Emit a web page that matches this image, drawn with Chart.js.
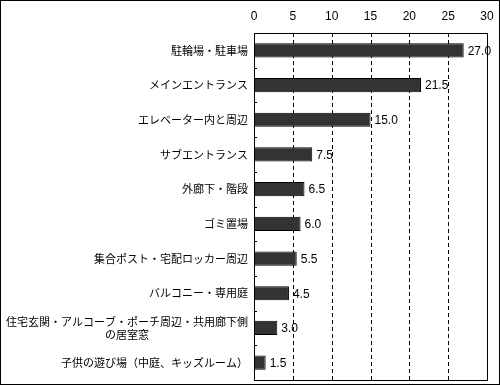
<!DOCTYPE html>
<html><head><meta charset="utf-8">
<script src="https://cdn.jsdelivr.net/npm/chart.js@4/dist/chart.umd.min.js"></script>
<style>html,body{margin:0;padding:0;background:#fff}#wrap{width:500px;height:385px;position:relative}</style>
</head><body><div id="wrap"><canvas id="c" width="500" height="385"></canvas></div>
<script>
const categories = [
  '駐輪場・駐車場',
  'メインエントランス',
  'エレベーター内と周辺',
  'サブエントランス',
  '外廊下・階段',
  'ゴミ置場',
  '集合ポスト・宅配ロッカー周辺',
  'バルコニー・専用庭',
  ['住宅玄関・アルコーブ・ポーチ周辺・共用廊下側', 'の居室窓'],
  '子供の遊び場（中庭、キッズルーム）'
];
const values = [27.0, 21.5, 15.0, 7.5, 6.5, 6.0, 5.5, 4.5, 3.0, 1.5];
const tickValues = [0, 5, 10, 15, 20, 25, 30];

const FONT = '"Noto Sans CJK JP", "Noto Sans", sans-serif';
const NUMFONT = '"Liberation Sans Narrow", "Liberation Sans", Arial, sans-serif';

const deco = {
  id: 'deco',
  beforeDatasetsDraw(chart) {
    const {ctx, chartArea: a, scales: {x, y}} = chart;
    ctx.save();
    ctx.strokeStyle = '#000';
    ctx.lineWidth = 1;
    ctx.setLineDash([4, 3]);
    tickValues.forEach(v => {
      if (v === tickValues[0] || v === tickValues[tickValues.length - 1]) return;
      const px = Math.round(x.getPixelForValue(v)) + 0.5;
      ctx.beginPath(); ctx.moveTo(px, a.top); ctx.lineTo(px, a.bottom); ctx.stroke();
    });
    ctx.setLineDash([]);
    for (let i = 1; i < categories.length; i++) {
      const py = Math.round((y.getPixelForValue(i - 1) + y.getPixelForValue(i)) / 2) + 0.5;
      ctx.beginPath(); ctx.moveTo(a.left, py); ctx.lineTo(a.left + 3, py); ctx.stroke();
    }
    ctx.restore();
  },
  afterDraw(chart) {
    const {ctx, chartArea: a, scales: {x, y}} = chart;
    ctx.save();
    ctx.strokeStyle = '#000';
    ctx.lineWidth = 1;
    ctx.strokeRect(Math.round(a.left) + 0.5, Math.round(a.top) + 0.5,
                   Math.round(a.right - a.left), Math.round(a.bottom - a.top));
    ctx.strokeRect(0.5, 0.5, 499, 384);
    ctx.fillStyle = '#000';
    // x tick labels (top)
    ctx.font = '12px ' + NUMFONT;
    ctx.textAlign = 'center';
    ctx.textBaseline = 'middle';
    tickValues.forEach(v => {
      ctx.fillText(String(v), x.getPixelForValue(v), a.top - 16);
    });
    // category labels
    ctx.font = '11px ' + FONT;
    categories.forEach((lab, i) => {
      const cy = y.getPixelForValue(i);
      const lines = Array.isArray(lab) ? lab : [lab];
      const lh = 13;
      if (lines.length === 1) {
        ctx.textAlign = 'right';
        ctx.fillText(lines[0], a.left - 6, cy);
      } else {
        const widths = lines.map(l => ctx.measureText(l).width);
        const w = Math.max(...widths);
        const cx = a.left - 6 - w / 2;
        ctx.textAlign = 'center';
        lines.forEach((l, j) => {
          ctx.fillText(l, cx, cy + (j - (lines.length - 1) / 2) * lh);
        });
      }
    });
    // value labels
    ctx.textAlign = 'left';
    ctx.font = '12px ' + NUMFONT;
    const meta = chart.getDatasetMeta(0);
    meta.data.forEach((bar, i) => {
      ctx.fillText(values[i].toFixed(1), bar.x + 4, bar.y + 1);
    });
    ctx.restore();
  }
};

new Chart(document.getElementById('c'), {
  type: 'bar',
  data: {
    labels: categories,
    datasets: [{
      data: values,
      backgroundColor: '#333333',
      borderColor: '#000000',
      borderWidth: 1,
      borderSkipped: 'start',
      barPercentage: 0.41,
      categoryPercentage: 1
    }]
  },
  options: {
    indexAxis: 'y',
    responsive: false,
    animation: false,
    devicePixelRatio: 1,
    layout: { padding: { left: 254, right: 13, top: 33, bottom: 5 } },
    plugins: { legend: { display: false }, tooltip: { enabled: false } },
    scales: {
      x: {
        display: false,
        min: 0, max: 30
      },
      y: {
        display: false
      }
    }
  },
  plugins: [deco]
});
</script></body></html>
